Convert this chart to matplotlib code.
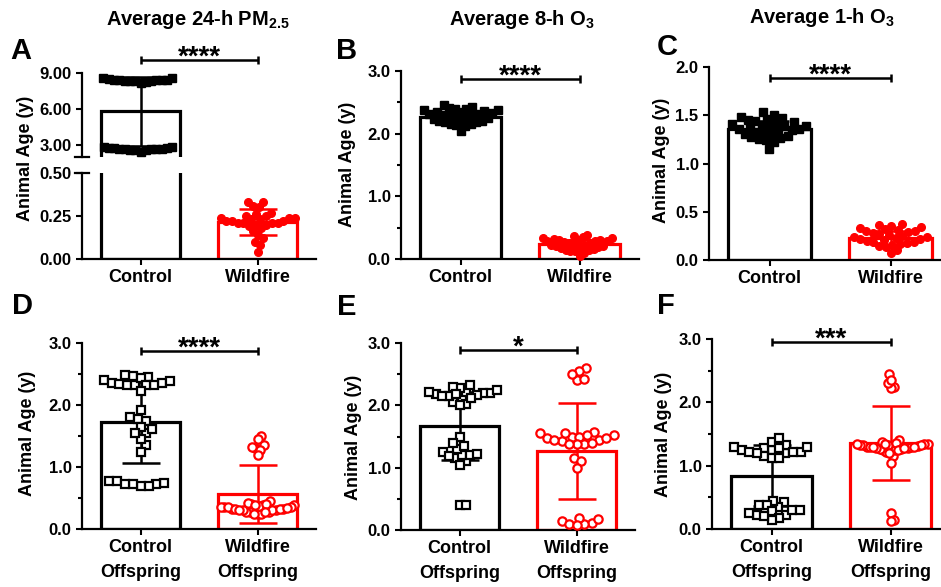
import numpy as np
import matplotlib
matplotlib.use('Agg')
import matplotlib.pyplot as plt
from matplotlib.ticker import FormatStrFormatter, MultipleLocator

plt.rcParams['font.family'] = ['Liberation Sans', 'DejaVu Sans']
plt.rcParams['font.weight'] = 'bold'
plt.rcParams['mathtext.fontset'] = 'custom'
plt.rcParams['mathtext.bf'] = 'Liberation Sans:bold'
plt.rcParams['mathtext.rm'] = 'Liberation Sans:bold'

W, H = 941, 587

# ---- data ----
groups_top = ['Control', 'Wildfire']
groups_bot = ['Control\nOffspring', 'Wildfire\nOffspring']

a_means = [5.8, 0.215]
a_sd = [2.9, 0.075]
a_ctrl = [8.35, 8.25, 8.45, 8.40, 8.30, 8.50, 8.20, 8.45, 8.40, 8.55, 8.30, 8.40, 8.35, 8.60,
          2.75, 2.70, 2.85, 2.65, 2.75, 2.70, 2.60, 2.80, 2.70, 2.75, 2.65, 2.60, 2.45, 2.55]
a_wild = [0.24, 0.23, 0.24, 0.21, 0.20, 0.24, 0.22, 0.25, 0.21, 0.19, 0.33, 0.30, 0.27, 0.33,
          0.23, 0.16, 0.10, 0.08, 0.12, 0.04, 0.14, 0.26, 0.31, 0.20, 0.18, 0.22, 0.25, 0.21,
          0.21, 0.22]

b_means = [2.27, 0.24]
b_sd = [0.08, 0.07]
b_ctrl = [2.28, 2.33, 2.22, 2.36, 2.25, 2.38, 2.15, 2.30, 2.40, 2.18, 2.32, 2.13, 2.26, 2.42,
          2.20, 2.16, 2.34, 2.14, 2.05, 2.27, 2.37, 2.21, 2.39, 2.31, 2.24, 2.41, 2.29, 2.19,
          2.35, 2.45]
b_wild = [0.20, 0.27, 0.14, 0.30, 0.18, 0.33, 0.12, 0.25, 0.35, 0.17, 0.29, 0.37, 0.22, 0.31,
          0.15, 0.26, 0.34, 0.23, 0.19, 0.32, 0.21, 0.28, 0.16, 0.30, 0.38, 0.24, 0.13, 0.29,
          0.10, 0.05]

c_means = [1.36, 0.23]
c_sd = [0.08, 0.07]
c_ctrl = [1.38, 1.42, 1.33, 1.46, 1.36, 1.50, 1.44, 1.24, 1.40, 1.30, 1.25, 1.47, 1.37, 1.28,
          1.43, 1.22, 1.34, 1.41, 1.27, 1.15, 1.32, 1.39, 1.48, 1.45, 1.53, 1.35, 1.26, 1.31,
          1.39, 1.36]
c_wild = [0.28, 0.24, 0.30, 0.19, 0.33, 0.22, 0.17, 0.26, 0.35, 0.15, 0.29, 0.37, 0.13, 0.31,
          0.21, 0.34, 0.36, 0.10, 0.25, 0.18, 0.07, 0.27, 0.32, 0.20, 0.23, 0.30, 0.16, 0.24,
          0.22, 0.19]

d_means = [1.72, 0.57]
d_sd = [0.65, 0.47]
d_ctrl = [2.35, 2.33, 2.40, 2.45, 2.33, 2.47, 2.38, 2.36, 2.43, 2.48, 2.34, 2.33, 2.32, 2.23,
          1.55, 1.80, 1.35, 1.92, 1.25, 1.75, 1.62, 1.45, 1.78, 1.65, 1.55,
          0.75, 0.72, 0.70, 0.78, 0.72, 0.78, 0.70, 0.73]
d_wild = [1.50, 1.45, 1.35, 1.30, 1.28, 1.33, 1.20,
          0.38, 0.35, 0.30, 0.25, 0.40, 0.28, 0.33, 0.36, 0.27, 0.42, 0.30, 0.35, 0.38, 0.45,
          0.32, 0.28, 0.25, 0.37, 0.40, 0.33, 0.30, 0.36, 0.27, 0.32, 0.38, 0.30, 0.25, 0.34]

e_means = [1.67, 1.27]
e_sd = [0.55, 0.77]
e_ctrl = [2.12, 2.18, 2.20, 2.02, 2.05, 2.15, 2.22, 2.28, 2.30, 2.25, 2.33, 2.18, 2.20, 2.15,
          2.17, 2.22, 2.12, 2.00,
          1.15, 1.10, 1.05, 1.20, 1.30, 1.50, 1.40, 1.35, 1.25, 1.20, 1.22, 1.18,
          0.40, 0.40]
e_wild = [2.40, 2.42, 2.60, 2.55, 2.50,
          1.48, 1.45, 1.42, 1.38, 1.50, 1.55, 1.52, 1.57, 1.50, 1.38, 1.52, 1.48, 1.40, 1.38,
          1.45, 1.55, 1.15, 1.10, 1.00,
          0.12, 0.10, 0.15, 0.18, 0.10, 0.20, 0.08]

f_means = [0.84, 1.36]
f_sd = [0.48, 0.58]
f_ctrl = [1.22, 1.25, 1.30, 1.28, 1.15, 1.12, 1.20, 1.38, 1.30, 1.33, 1.43, 1.28, 1.25, 1.22,
          1.20, 1.12, 1.22,
          0.22, 0.25, 0.22, 0.38, 0.42, 0.30, 0.35, 0.45, 0.38, 0.30, 0.28, 0.18, 0.15, 0.20]
f_wild = [2.25, 2.22, 2.45, 2.30, 2.35,
          1.30, 1.32, 1.28, 1.35, 1.25, 1.30, 1.33, 1.38, 1.22, 1.40, 1.30, 1.27, 1.35, 1.15,
          1.05, 1.25, 1.32, 1.36, 1.30, 1.28, 1.34, 1.26, 1.31, 1.29, 1.33, 1.20, 1.25, 1.30,
          1.35, 1.28,
          0.25, 0.15, 0.12]

stars = ['****', '****', '****', '****', '*', '***']

RED = '#ff0000'
fig = plt.figure(figsize=(W / 100, H / 100), dpi=100)


def rect(l, r, t, b):
    return [l / W, 1 - b / H, (r - l) / W, (b - t) / H]


def style(ax, left=True, bottom=True):
    for s in ['top', 'right']:
        ax.spines[s].set_visible(False)
    ax.spines['left'].set_visible(left)
    ax.spines['bottom'].set_visible(bottom)
    ax.spines['left'].set_linewidth(1.6)
    ax.spines['bottom'].set_linewidth(1.6)
    ax.tick_params(which='both', direction='out', width=1.5, labelsize=12)
    ax.tick_params(which='major', length=4.5, pad=3)
    ax.tick_params(which='minor', length=3)
    ax.set_xlim(-0.5, 1.5)
    ax.patch.set_alpha(0)


def swarm(ax, x0, vals, d=8.0, maxw=37.0):
    # beeswarm layout in pixel space, squeezed to stay inside the bar
    ys = ax.transData.transform([(x0, v) for v in vals])[:, 1]
    px0 = ax.transData.transform((x0, 0))[0]
    placed = []
    xs = np.zeros(len(vals))
    for i in np.argsort(ys):
        y = ys[i]
        cands = [0.0]
        for px, py in placed:
            dy = abs(py - y)
            if dy < d:
                dx = np.sqrt(d * d - dy * dy)
                cands += [px + dx, px - dx]
        cands.sort(key=abs)
        for c in cands:
            if all((c - px) ** 2 + (y - py) ** 2 >= d * d - 1e-6 for px, py in placed):
                break
        placed.append((c, y))
        xs[i] = c
    m = np.abs(xs).max()
    if m > maxw:
        xs = xs * maxw / m
    inv = ax.transData.inverted()
    return [inv.transform((px0 + xs[i], ys[i]))[0] for i in range(len(vals))]


def bars(ax, means, sd, err=True):
    for i, col in enumerate(['black', RED]):
        ax.bar(i, means[i], width=0.68, color='white', edgecolor=col, linewidth=2.3, zorder=1)
        if err:
            ax.errorbar(i, means[i], yerr=sd[i], color=col, capsize=14, elinewidth=1.8,
                        capthick=1.8, zorder=2)


def points(ax, i, vals, open_marker):
    col = 'black' if i == 0 else RED
    m = 's' if i == 0 else 'o'
    xs = swarm(ax, i, vals)
    if open_marker:
        ax.plot(xs, vals, m, ms=6, mfc='white', mec=col, mew=1.6, ls='none', zorder=3,
                clip_on=False)
    else:
        ax.plot(xs, vals, m, ms=5.5, color=col, ls='none', zorder=3, clip_on=False)


def bracket(ax, y, txt):
    lo, hi = ax.get_ylim()
    h = 4 * (hi - lo) / ax.bbox.height
    kw = dict(color='black', lw=1.8, clip_on=False, solid_capstyle='butt')
    ax.plot([0, 1], [y, y], **kw)
    ax.plot([0, 0], [y - h, y + h], **kw)
    ax.plot([1, 1], [y - h, y + h], **kw)
    ax.annotate(txt, (0.5, y), xytext=(0, -3.5), textcoords='offset points', ha='center',
                va='baseline', fontsize=20, annotation_clip=False)


# ---- panel A (broken axis) ----
axA = fig.add_axes(rect(82, 316, 173, 259))
axA2 = fig.add_axes(rect(82, 316, 73, 157))
style(axA)
style(axA2, bottom=False)
axA.set_ylim(0, 0.5)
axA.set_yticks([0, 0.25, 0.5])
axA.yaxis.set_major_formatter(FormatStrFormatter('%.2f'))
axA2.set_ylim(2, 9)
axA2.set_yticks([3, 6, 9])
axA2.yaxis.set_major_formatter(FormatStrFormatter('%.2f'))
axA2.set_xticks([])
bars(axA, a_means, a_sd)
bars(axA2, a_means, a_sd)
points(axA2, 0, a_ctrl, False)
points(axA, 1, a_wild, False)
axA.set_xticks([0, 1])
axA.set_xticklabels(groups_top, fontsize=13)
for a, yy in [(axA2, 0), (axA, 1)]:
    a.plot([-0.03, 0.03], [yy, yy], transform=a.transAxes, color='black', lw=1.6,
           clip_on=False)
bracket(axA2, 10.08, stars[0])

# ---- other panels ----
panels = [
    (rect(401, 639, 71, 259), (0, 3), 1.0, 0.5, b_means, b_sd, b_ctrl, b_wild, False, 2.87),
    (rect(709, 951, 67, 260), (0, 2), 0.5, None, c_means, c_sd, c_ctrl, c_wild, False, 1.885),
    (rect(82, 316, 343, 529), (0, 3), 1.0, 0.5, d_means, d_sd, d_ctrl, d_wild, True, 2.87),
    (rect(401, 635, 343, 530), (0, 3), 1.0, 0.5, e_means, e_sd, e_ctrl, e_wild, True, 2.89),
    (rect(712, 950, 339, 529), (0, 3), 1.0, 0.5, f_means, f_sd, f_ctrl, f_wild, True, 2.95),
]
for k, (r, yl, maj, mnr, mn, sd, ctrl, wild, openm, by) in enumerate(panels):
    ax = fig.add_axes(r)
    style(ax)
    ax.set_ylim(*yl)
    ax.yaxis.set_major_locator(MultipleLocator(maj))
    if mnr:
        ax.yaxis.set_minor_locator(MultipleLocator(mnr))
    ax.yaxis.set_major_formatter(FormatStrFormatter('%.1f'))
    bars(ax, mn, sd)
    points(ax, 0, ctrl, openm)
    points(ax, 1, wild, openm)
    ax.set_xticks([0, 1])
    ax.set_xticklabels(groups_bot if openm else groups_top, fontsize=13, linespacing=1.55)
    bracket(ax, by, stars[k + 1])

# ---- titles, letters, y labels ----
fig.text(198 / W, 1 - 25 / H, r'Average 24-h PM$_{\mathbf{2.5}}$', ha='center',
         va='baseline', fontsize=14.5)
fig.text(522 / W, 1 - 25 / H, r'Average 8-h O$_{\mathbf{3}}$', ha='center', va='baseline',
         fontsize=14.5)
fig.text(822 / W, 1 - 23 / H, r'Average 1-h O$_{\mathbf{3}}$', ha='center', va='baseline',
         fontsize=14.5)

for lt, x, y in [('A', 21, 51), ('B', 347, 51), ('C', 667, 47),
                 ('D', 23, 306), ('E', 347, 307), ('F', 666, 306)]:
    fig.text(x / W, 1 - y / H, lt, ha='center', va='center', fontsize=21)

for x, y in [(25, 158), (348, 164), (662, 160), (28, 433), (353, 437), (663, 434)]:
    fig.text(x / W, 1 - y / H, 'Animal Age (y)', rotation=90, ha='center', va='center',
             fontsize=13)

fig.savefig('out.png', dpi=100)
